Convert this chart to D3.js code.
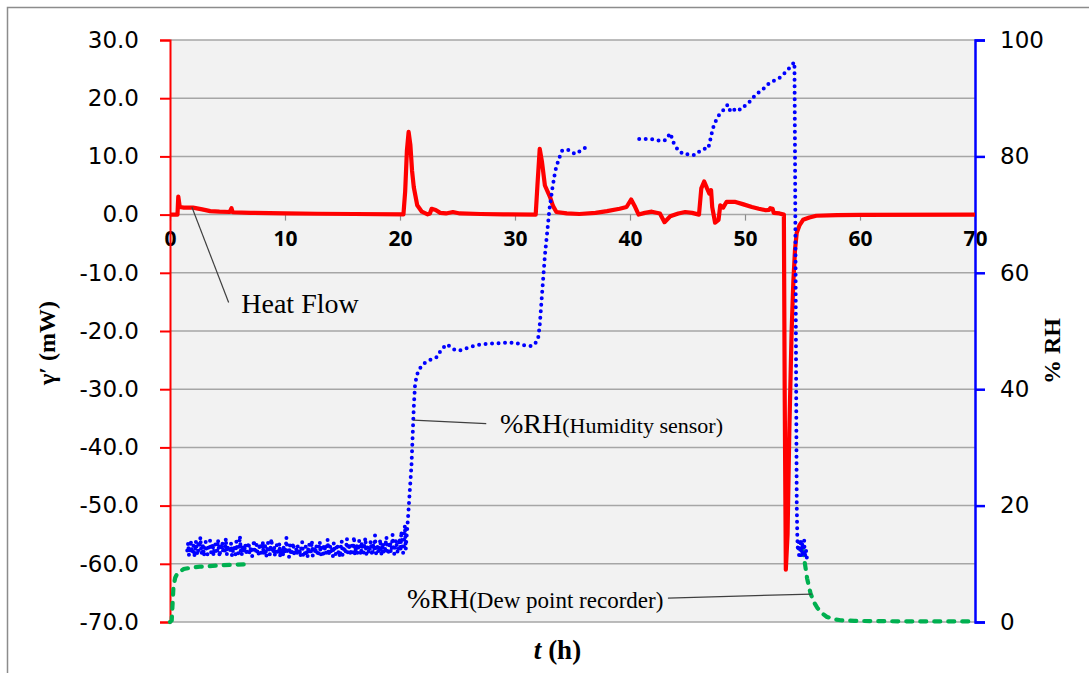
<!DOCTYPE html>
<html>
<head>
<meta charset="utf-8">
<script src="https://cdn.jsdelivr.net/npm/d3@7"></script>
<style>
    body { margin: 0; background: #ffffff; }
    svg { display: block; }
</style>
</head>
<body>
<div id="chart"></div>
<script>
// ---- data ----

// heat flow, [t (h), mW]
const heatFlow = [
    [0, 0], [0.65, 0], [0.72, 3.1], [0.85, 1.3], [1.2, 1.2], [2.0, 1.2], [2.8, 0.9], [3.5, 0.6],
    [4.3, 0.5], [5.2, 0.45], [5.35, 1.1], [5.45, 0.4], [7.0, 0.3], [10, 0.2], [12.8, 0.15], [16, 0.1],
    [20.3, 0.05], [20.45, 4], [20.6, 11], [20.75, 14.2], [20.9, 12], [21.05, 7.5], [21.2, 4.7], [21.5, 1.6],
    [21.9, 0.5], [22.4, 0.05], [22.6, 0.2], [22.75, 1.0], [23.1, 0.8], [23.5, 0.3], [24.0, 0.2], [24.6, 0.45],
    [25.2, 0.2], [27.0, 0.1], [29, 0.05], [31.8, 0], [31.95, 5], [32.15, 11.3], [32.35, 9], [32.6, 5.0],
    [33.05, 3.0], [33.3, 1.5], [33.6, 0.45], [34.5, 0.2], [35.6, 0.1], [37, 0.3], [38, 0.6], [39.1, 1.0],
    [39.7, 1.3], [40.1, 2.6], [40.45, 1.3], [40.75, 0], [41.3, 0.3], [41.9, 0.5], [42.6, 0.2], [43.0, -1.3],
    [43.5, -0.3], [44.2, 0.2], [44.8, 0.45], [45.4, 0.3], [46.0, 0], [46.2, 4.5], [46.45, 5.7], [46.7, 4.5],
    [46.9, 3.6], [47.05, 4.2], [47.15, 1.3], [47.4, -1.4], [47.7, -0.9], [47.85, 1.6], [48.1, 1.2], [48.4, 2.2],
    [49.1, 2.2], [49.8, 1.8], [50.6, 1.3], [51.2, 1.0], [51.8, 0.75], [52.1, 0.8], [52.2, 1.1], [52.4, 1.0],
    [52.5, 0.3], [53.0, 0.2], [53.38, 0], [53.45, -30], [53.55, -61], [53.7, -55], [53.85, -37.6], [54.05, -20.3],
    [54.2, -11.7], [54.35, -6.0], [54.5, -3.1], [54.75, -1.8], [55.05, -0.9], [55.6, -0.5], [56.2, -0.2], [58, -0.1],
    [60, -0.05], [70, 0]
];

// humidity sensor, noisy readings between t = 1.5 h and t = 20.5 h (evenly sampled)
const sensorNoiseStart = 1.5;
const sensorNoiseEnd = 20.5;
const sensorNoise = [
    12.3, 13.6, 11.4, 12.9, 14.1, 11.8, 12.6, 13.2, 11.2, 12.4, 13.9, 12.0, 11.5, 13.4, 12.8, 14.6, 11.7, 12.2, 13.1, 11.3,
    12.7, 13.8, 12.1, 11.6, 13.0, 12.5, 14.0, 11.9, 12.3, 13.5, 11.4, 12.8, 13.3, 11.7, 12.0, 14.2, 12.6, 11.2, 13.0, 12.4,
    13.7, 11.8, 12.9, 12.1, 14.4, 11.5, 12.7, 13.2, 11.9, 12.4, 13.6, 11.3, 12.2, 13.0, 12.6, 11.6, 13.9, 12.3, 11.8, 12.9,
    14.8, 12.0, 11.4, 13.1, 12.5, 11.9, 13.4, 12.2, 11.5, 12.8, 13.7, 11.7, 12.4, 13.0, 11.3, 12.6, 14.1, 12.1, 11.8, 13.3,
    12.0, 11.4, 12.7, 13.5, 11.9, 12.3, 13.8, 11.6, 12.5, 13.1, 11.2, 12.2, 13.6, 12.7, 11.5, 12.9, 14.3, 11.8, 12.1, 13.0,
    11.3, 12.4, 13.2, 11.6, 12.0, 13.5, 11.1, 12.6, 12.2, 11.4, 13.0, 12.3, 11.7, 14.5, 11.9, 12.5, 11.2, 13.3, 12.0, 11.5,
    12.8, 13.6, 11.3, 12.1, 12.7, 11.6, 13.1, 11.9, 12.4, 11.2, 12.9, 13.7, 11.5, 12.2, 11.8, 13.0, 12.5, 11.1, 12.7, 13.4,
    11.6, 12.0, 14.0, 11.4, 12.3, 12.9, 11.7, 13.2, 12.1, 11.3, 12.6, 13.8, 11.5, 12.0, 12.8, 11.2, 13.3, 12.4, 11.7, 12.9,
    14.2, 11.4, 12.2, 13.1, 11.8, 12.5, 11.3, 13.6, 12.0, 11.6, 12.7, 13.4, 11.9, 12.3, 11.1, 12.8, 13.9, 11.5, 12.4, 13.0,
    11.7, 12.6, 14.3, 11.9, 12.2, 13.5, 11.4, 12.8, 13.1, 12.0, 14.7, 11.6, 12.5, 13.3, 11.8, 12.9, 14.0, 12.2, 11.5, 13.7,
    12.4, 11.9, 13.2, 14.5, 11.6, 12.7, 13.0, 11.8, 12.3, 13.9, 12.1, 11.4, 13.4, 12.6, 14.9, 11.7, 12.2, 13.1, 11.9, 12.8,
    14.2, 11.5, 12.5, 13.6, 12.0, 11.8, 13.3, 14.6, 12.3, 11.6, 12.9, 13.8, 11.9, 12.4, 15.0, 12.1, 11.7, 13.5, 14.1, 12.6,
    11.8, 13.0, 14.4, 12.2, 15.6, 12.7, 11.9, 13.2, 16.6, 12.5
];

// humidity sensor after the step at ~20.5 h, [t (h), %RH]; null marks the gap in the record
const sensorRest = [
    [20.55, 14.0], [20.7, 18], [20.85, 22.5], [21.0, 27], [21.1, 32], [21.2, 37], [21.3, 40.5], [21.45, 42.4],
    [21.8, 43.8], [22.2, 44.6], [22.8, 45.2], [23.2, 45.5], [23.5, 46.5], [23.8, 47.2], [24.0, 47.7], [24.3, 47.4],
    [24.6, 46.9], [25.0, 46.6], [25.5, 46.8], [26.0, 47.2], [26.8, 47.6], [27.6, 47.8], [28.5, 47.9], [29.3, 48.0],
    [30.0, 48.0], [30.6, 47.6], [31.2, 47.4], [31.6, 47.5], [32.0, 48.5], [32.15, 51], [32.3, 55], [32.45, 59],
    [32.6, 63], [32.8, 67], [33.0, 71], [33.25, 74.5], [33.5, 77.5], [33.8, 79.5], [34.1, 81.0], [34.4, 81.2],
    [34.8, 81.0], [35.2, 80.4], [35.5, 80.7], [35.9, 81.3], [36.3, 81.6],
    null,
    [40.8, 83.0], [41.5, 83.0], [42.2, 82.9], [42.7, 82.6], [43.1, 82.8], [43.5, 84.0], [43.8, 82.3], [44.2, 81.0],
    [44.7, 80.3], [45.2, 80.4], [45.6, 80.2], [46.0, 80.8], [46.4, 81.3], [46.8, 81.3], [47.0, 83.0], [47.2, 84.8],
    [47.5, 86.3], [47.8, 87.3], [48.1, 87.9], [48.5, 88.9], [48.7, 87.9], [48.9, 87.6], [49.2, 88.3], [49.6, 88.0],
    [50.0, 88.7], [50.4, 89.4], [50.8, 90.3], [51.1, 90.9], [51.4, 91.2], [51.7, 91.8], [52.0, 92.4], [52.5, 93.0],
    [53.0, 93.5], [53.6, 94.6], [54.0, 95.5], [54.3, 96.2], [54.35, 80], [54.4, 60], [54.45, 40], [54.5, 20],
    [54.55, 14.5], [54.6, 12.2], [54.65, 13.8], [54.7, 11.5], [54.75, 13.2], [54.8, 12.0], [54.85, 14.2], [54.9, 11.3],
    [54.95, 12.9], [55.0, 13.7], [55.05, 11.8], [55.1, 12.6], [55.15, 14.0], [55.2, 11.1], [55.3, 12.4], [55.4, 10.6]
];

// dew point recorder, [t (h), %RH]
const dewPoint = [
    [0, 0], [0.15, 0.3], [0.3, 6], [0.45, 7.6], [0.65, 8.4], [1.2, 9.1], [2.0, 9.4], [2.6, 9.5],
    [4.1, 9.7], [5.5, 9.85], [6.7, 9.9],
    null,
    [55.0, 12.5], [55.1, 11.5], [55.4, 7.5], [55.7, 4.9], [56.0, 3.4], [56.3, 2.4], [56.7, 1.5], [57.1, 0.9],
    [57.7, 0.5], [58.3, 0.3], [59.5, 0.2], [61.1, 0.15], [65, 0.1], [69.6, 0.1]
];

// ticks
const timeTicks = [0, 10, 20, 30, 40, 50, 60, 70];
const heatTicks = [30, 20, 10, 0, -10, -20, -30, -40, -50, -60, -70];
const rhTicks = [0, 20, 40, 60, 80, 100];

// ---- layout ----
const width = 1089;
const height = 673;
const plot = { left: 170, right: 975, top: 40, bottom: 622 };

const svg = d3.select("#chart")
    .append("svg")
    .attr("width", width)
    .attr("height", height);

// outer chart frame
svg.append("rect")
    .attr("x", 7.5).attr("y", 7.5)
    .attr("width", width).attr("height", height)
    .attr("fill", "#ffffff")
    .attr("stroke", "#8c8c8c")
    .attr("stroke-width", 1.5);

const x = d3.scaleLinear().domain([0, 70]).range([plot.left, plot.right]);
const yHeat = d3.scaleLinear().domain([-70, 30]).range([plot.bottom, plot.top]);
const yRH = d3.scaleLinear().domain([0, 100]).range([plot.bottom, plot.top]);

// plot background
svg.append("rect")
    .attr("x", plot.left).attr("y", plot.top)
    .attr("width", plot.right - plot.left)
    .attr("height", plot.bottom - plot.top)
    .attr("fill", "#f2f2f2");

// gridlines
svg.append("g")
    .selectAll("line")
    .data(heatTicks)
    .enter()
    .append("line")
    .attr("x1", plot.left).attr("x2", plot.right)
    .attr("y1", d => yHeat(d)).attr("y2", d => yHeat(d))
    .attr("stroke", "#a6a6a6")
    .attr("stroke-width", 1.5);

// x axis sits on zero heat flow
const xAxis = svg.append("g")
    .attr("transform", `translate(0,${yHeat(0)})`)
    .call(d3.axisBottom(x).tickValues(timeTicks).tickSize(6).tickPadding(10).tickFormat(d3.format("d")));
xAxis.select(".domain").remove();
xAxis.selectAll(".tick line").attr("stroke", "#8c8c8c").attr("stroke-width", 1.2);
xAxis.selectAll(".tick text")
    .attr("fill", "#000000")
    .style("font-family", "'Open Sans', sans-serif")
    .style("font-weight", "700")
    .style("font-size", "21px");

// left axis (heat flow)
const leftAxis = svg.append("g")
    .attr("transform", `translate(${plot.left},0)`)
    .call(d3.axisLeft(yHeat).tickValues(heatTicks).tickSize(10).tickPadding(21).tickFormat(d3.format(".1f")));
leftAxis.select(".domain").attr("stroke", "#ff0000").attr("stroke-width", 2);
leftAxis.selectAll(".tick line").attr("stroke", "#ff0000").attr("stroke-width", 2);
leftAxis.selectAll(".tick text")
    .attr("fill", "#000000")
    .text(d => d3.format(".1f")(d).replace("−", "-"))
    .style("font-family", "'DejaVu Sans', sans-serif")
    .style("font-size", "23px");

// right axis (%RH)
const rightAxis = svg.append("g")
    .attr("transform", `translate(${plot.right},0)`)
    .call(d3.axisRight(yRH).tickValues(rhTicks).tickSize(10).tickPadding(15).tickFormat(d3.format("d")));
rightAxis.select(".domain").attr("stroke", "#0000ff").attr("stroke-width", 2.5);
rightAxis.selectAll(".tick line").attr("stroke", "#0000ff").attr("stroke-width", 2.5);
rightAxis.selectAll(".tick text")
    .attr("fill", "#000000")
    .style("font-family", "'DejaVu Sans', sans-serif")
    .style("font-size", "23px");

// ---- series ----
const heatLine = d3.line()
    .x(d => x(d[0]))
    .y(d => yHeat(d[1]));

const rhLine = d3.line()
    .defined(d => d !== null)
    .x(d => x(d[0]))
    .y(d => yRH(d[1]));

svg.append("path")
    .datum(heatFlow)
    .attr("d", heatLine)
    .attr("fill", "none")
    .attr("stroke", "#ff0000")
    .attr("stroke-width", 4.2)
    .attr("stroke-linejoin", "round");

svg.append("path")
    .datum(dewPoint)
    .attr("d", rhLine)
    .attr("fill", "none")
    .attr("stroke", "#00b050")
    .attr("stroke-width", 4.2)
    .attr("stroke-linecap", "round")
    .attr("stroke-dasharray", "6 8");

// sensor readings: evenly sampled noisy part, then the rest
const noiseStep = (sensorNoiseEnd - sensorNoiseStart) / (sensorNoise.length - 1);
const sensorSeries = sensorNoise
    .map((v, i) => [sensorNoiseStart + i * noiseStep, v])
    .concat(sensorRest);

svg.append("path")
    .datum(sensorSeries)
    .attr("d", rhLine)
    .attr("fill", "none")
    .attr("stroke", "#0000ff")
    .attr("stroke-width", 4)
    .attr("stroke-linecap", "round")
    .attr("stroke-dasharray", "0 6.5");

// ---- annotations ----
const serif = "'Liberation Serif', 'Times New Roman', serif";

function leader(p1, p2) {
    svg.append("line")
        .attr("x1", p1[0]).attr("y1", p1[1])
        .attr("x2", p2[0]).attr("y2", p2[1])
        .attr("stroke", "#404040")
        .attr("stroke-width", 1.2);
}

// heat flow label
leader([x(1.9), yHeat(1.3)], [x(5.1), yHeat(-15.1)]);
svg.append("text")
    .attr("x", x(6.2))
    .attr("y", yHeat(-16.9))
    .style("font-family", serif)
    .style("font-size", "28px")
    .text("Heat Flow");

// humidity sensor label
leader([x(21.15), yRH(34.7)], [x(27.5), yRH(34.1)]);
const humLabel = svg.append("text")
    .attr("x", x(28.7))
    .attr("y", yRH(32.4))
    .style("font-family", serif)
    .style("font-size", "28px");
humLabel.append("tspan").text("%RH");
humLabel.append("tspan").style("font-size", "22px").text("(Humidity sensor)");

// dew point label
leader([x(43.3), yRH(4.1)], [x(55.8), yRH(4.8)]);
const dewLabel = svg.append("text")
    .attr("x", x(42.9))
    .attr("y", yRH(2.4))
    .attr("text-anchor", "end")
    .style("font-family", serif)
    .style("font-size", "28px");
dewLabel.append("tspan").text("%RH");
dewLabel.append("tspan").style("font-size", "23px").text("(Dew point recorder)");

// ---- axis titles ----
svg.append("text")
    .attr("transform", `translate(55,${(plot.top + plot.bottom) / 2 + 12}) rotate(-90)`)
    .attr("text-anchor", "middle")
    .style("font-family", serif)
    .style("font-weight", "700")
    .style("font-size", "24px")
    .text("γ′ (mW)");

svg.append("text")
    .attr("transform", `translate(1060,${(plot.top + plot.bottom) / 2 + 20}) rotate(-90)`)
    .attr("text-anchor", "middle")
    .style("font-family", serif)
    .style("font-weight", "700")
    .style("font-size", "24px")
    .text("% RH");

const tTitle = svg.append("text")
    .attr("x", (plot.left + plot.right) / 2 - 15)
    .attr("y", 659)
    .attr("text-anchor", "middle")
    .style("font-family", serif)
    .style("font-weight", "700")
    .style("font-size", "27px");
tTitle.append("tspan").style("font-style", "italic").text("t");
tTitle.append("tspan").text(" (h)");
</script>
</body>
</html>
